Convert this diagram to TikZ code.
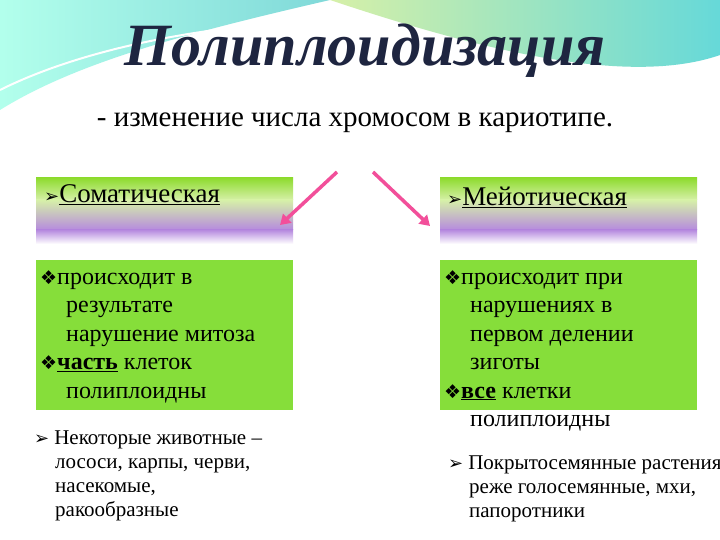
\documentclass[tikz,border=0pt]{standalone}
\usepackage{fontspec}
\setmainfont{Liberation Serif}
\newfontfamily\symf{DejaVu Sans}
\usetikzlibrary{arrows.meta}
\tikzset{
  body/.style={anchor=north west,align=left,font=\fontsize{24}{28.5}\selectfont,inner sep=0pt},
  small/.style={anchor=north west,align=left,font=\fontsize{21}{24}\selectfont,inner sep=0pt},
  parr/.style={draw=magenta!80!red!70,line width=3.5pt,-{Triangle[length=10pt,width=12pt]}},
}
\definecolor{bgreen}{HTML}{86DE3A}
\definecolor{tgreen}{HTML}{8EDB2F}
\definecolor{lgreen}{HTML}{D6F0A8}
\definecolor{purp}{HTML}{B68ADF}
\definecolor{navy}{HTML}{1E2540}
\newcommand{\bv}{{\symf\fontsize{19}{19}\selectfont ❖}}
\newcommand{\ba}{{\symf\fontsize{18}{18}\selectfont ➢}}
\begin{document}
\begin{tikzpicture}[x=1pt,y=-1pt]
\useasboundingbox (0,0) rectangle (720,540);
\fill[white] (0,0) rectangle (720,540);
% background swooshes
\shade[left color=green!25!cyan!30,right color=cyan!40!teal!50] (0,0) -- (330,0) .. controls (200,30) and (80,60) .. (0,110) -- cycle;
\shade[left color=lgreen,right color=cyan!50!teal!60] (330,0) -- (720,0) -- (720,55) .. controls (620,90) and (450,40) .. (330,0) -- cycle;
\draw[white,line width=2pt] (0,90) .. controls (80,50) and (200,25) .. (330,20);
% title
\node (title) at (365,51) {\fontsize{60}{64}\selectfont\bfseries\itshape\color{navy}Полиплоидизация};
\node (sub) at (355,123) {\fontsize{29}{32}\selectfont - изменение числа хромосом в кариотипе.};
% header boxes
\shade[top color=tgreen,bottom color=lgreen] (36,178) rectangle (293,200);
\shade[top color=lgreen,bottom color=purp] (36,200) rectangle (293,230);
\shade[top color=purp,bottom color=white] (36,230) rectangle (293,244);
\shade[top color=tgreen,bottom color=lgreen] (440,178) rectangle (697,200);
\shade[top color=lgreen,bottom color=purp] (440,200) rectangle (697,230);
\shade[top color=purp,bottom color=white] (440,230) rectangle (697,244);
\node[body,font=\fontsize{27}{30}\selectfont] (h1) at (44,184) {\ba\underline{Соматическая}};
\node[body,font=\fontsize{27}{30}\selectfont] (h2) at (447,187) {\ba\underline{Мейотическая}};
% arrows
\coordinate (la) at (337,172); \coordinate (lb) at (280,225);
\coordinate (ra) at (373,172); \coordinate (rb) at (430,226);
\draw[parr] (la) -- (lb);
\draw[parr] (ra) -- (rb);
% green boxes
\fill[bgreen] (36,260) rectangle (293,410);
\fill[bgreen] (440,260) rectangle (697,410);
\node[body] (g1) at (40,270) {\bv происходит в\\\hspace{26pt}результате\\\hspace{26pt}нарушение митоза\\\bv\textbf{\underline{часть}} клеток\\\hspace{26pt}полиплоидны};
\node[body] (g2) at (444,270) {\bv происходит при\\\hspace{26pt}нарушениях в\\\hspace{26pt}первом делении\\\hspace{26pt}зиготы\\\bv\textbf{\underline{все}} клетки\\\hspace{26pt}полиплоидны};
\node[small] (n1) at (34,431) {\ba\hspace{5pt}Некоторые животные –\\\hspace{21pt}лососи, карпы, черви,\\\hspace{21pt}насекомые,\\\hspace{21pt}ракообразные};
\node[small] (n2) at (448,456) {\ba\hspace{5pt}Покрытосемянные растения,\\\hspace{21pt}реже голосемянные, мхи,\\\hspace{21pt}папоротники};
\end{tikzpicture}
\end{document}
